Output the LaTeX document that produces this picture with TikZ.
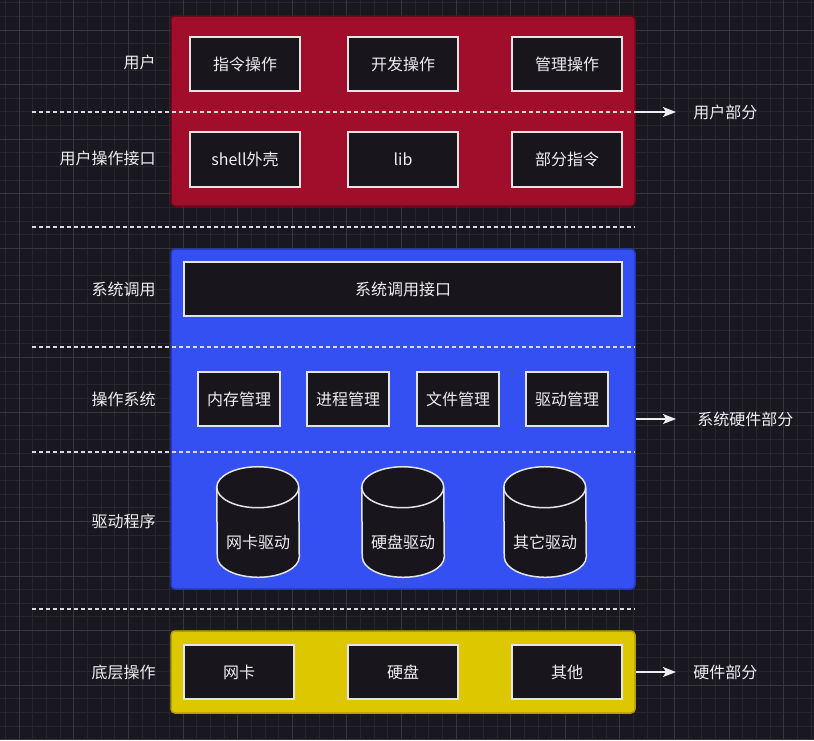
\documentclass[tikz,border=0pt]{standalone}
\usepackage{fontspec}
\setmainfont{Noto Sans CJK SC}
\usetikzlibrary{arrows.meta}
\newlength\pxu \setlength\pxu{0.75pt}
\definecolor{bg}{HTML}{19171F}
\definecolor{gminor}{HTML}{27252D}
\definecolor{gmajor}{HTML}{37353D}
\definecolor{redf}{HTML}{A00E2B}
\definecolor{redd}{HTML}{6B0A1A}
\definecolor{bluef}{HTML}{3550F2}
\definecolor{blued}{HTML}{2637C8}
\definecolor{yelf}{HTML}{DDC800}
\definecolor{yeld}{HTML}{B59C00}
\definecolor{boxfill}{HTML}{18151D}
\definecolor{boxline}{HTML}{E4E4E4}
\definecolor{txt}{HTML}{EEEEEE}
\definecolor{dashc}{HTML}{DADADA}
\begin{document}
\begin{tikzpicture}[x=0.75pt,y=-0.75pt,
  txtfont/.style={font=\fontsize{12}{14}\selectfont},
  ibox/.style={draw=boxline, fill=boxfill, line width=1.5\pxu, text=txt, txtfont,
    minimum width=110\pxu, minimum height=54\pxu, inner sep=0},
  sbox/.style={ibox, minimum width=82\pxu},
  group/.style={rounded corners=4\pxu, line width=1.5\pxu, inner sep=0},
  lbl/.style={text=txt, txtfont, inner sep=0},
  dashline/.style={draw=dashc, line width=1.5\pxu, dash pattern=on 4\pxu off 3\pxu},
  arr/.style={draw=txt, line width=1.1pt, shorten >=12.75pt,
    -{Stealth[length=9.75pt, width=7.5pt, inset=2.25pt]}},
  cylarea/.style={text=txt, txtfont, minimum width=82\pxu, minimum height=110\pxu, inner sep=0},
  cyl/.style={draw=boxline, fill=boxfill, line width=1.5\pxu}
]
\fill[bg] (0,0) rectangle (814,740);
\useasboundingbox (0,0) rectangle (814,740);
% grid
\foreach \k in {0,...,59} {
  \pgfmathsetmacro\gx{5.65+\k*13.65}
  \draw[gminor, line width=1\pxu] (\gx,0) -- (\gx,740);
}
\foreach \k in {0,...,54} {
  \pgfmathsetmacro\gy{2.7+\k*13.65}
  \draw[gminor, line width=1\pxu] (0,\gy) -- (814,\gy);
}
\foreach \m in {0,...,14} {
  \pgfmathsetmacro\gx{19.3+\m*54.6}
  \draw[gmajor, line width=1\pxu] (\gx,0) -- (\gx,740);
}
\foreach \m in {-1,...,13} {
  \pgfmathsetmacro\gy{30+\m*54.6}
  \draw[gmajor, line width=1\pxu] (0,\gy) -- (814,\gy);
}
% groups
\node[group, fill=redf, draw=redd, minimum width=464\pxu, minimum height=190\pxu] (red) at (403,111) {};
\node[group, fill=bluef, draw=blued, minimum width=464\pxu, minimum height=340\pxu] (blue) at (403,419) {};
\node[group, fill=yelf, draw=yeld, minimum width=464\pxu, minimum height=82\pxu] (yel) at (403,672) {};
% dashed separators
\coordinate (d1) at (32,112);
\coordinate (d2a) at (32,227); \coordinate (d2b) at (635,227);
\coordinate (d3a) at (32,347); \coordinate (d3b) at (635,347);
\coordinate (d4a) at (32,452); \coordinate (d4b) at (635,452);
\coordinate (d5a) at (32,609); \coordinate (d5b) at (635,609);
\draw[dashline] (d1) -- (d1 -| red.east);
\draw[dashline] (d2a) -- (d2b);
\draw[dashline] (d3a) -- (d3b);
\draw[dashline] (d4a) -- (d4b);
\draw[dashline] (d5a) -- (d5b);
% user part
\node[ibox] (cmd) at (245,64) {指令操作};
\node[ibox] (dev) at (403,64) {开发操作};
\node[ibox] (mgr) at (567,64) {管理操作};
\node[ibox, minimum height=55\pxu] (shell) at (245,159.5) {shell外壳};
\node[ibox, minimum height=55\pxu] (lib) at (403,159.5) {lib};
\node[ibox, minimum height=55\pxu] (part) at (567,159.5) {部分指令};
% system part
\node[ibox, minimum width=438\pxu] (sci) at (403,289) {系统调用接口};
\node[sbox] (mem) at (239,399) {内存管理};
\node[sbox] (proc) at (348,399) {进程管理};
\node[sbox] (file) at (458,399) {文件管理};
\node[sbox] (drv) at (567,399) {驱动管理};
% cylinders
\foreach \nm/\cx/\tx in {nic/258/网卡驱动, disk/403/硬盘驱动, oth/545/其它驱动} {
  \node[cylarea] (\nm) at (\cx,522) {};
  \draw[cyl] ([yshift=-15.375pt]\nm.north west)
     arc[start angle=180, end angle=0, x radius=30.75pt, y radius=15.375pt]
     -- ([yshift=15.375pt]\nm.south east)
     arc[start angle=0, end angle=-180, x radius=30.75pt, y radius=15.375pt]
     -- cycle;
  \draw[cyl, fill=none] ([yshift=-15.375pt]\nm.north west)
     arc[start angle=180, end angle=360, x radius=30.75pt, y radius=15.375pt];
  \node[lbl] at ([yshift=-15pt]\nm.center) {\tx};
}
% hardware part
\node[ibox] (nc) at (239,672) {网卡};
\node[ibox] (hd) at (403,672) {硬盘};
\node[ibox] (ot) at (567,672) {其他};
% left labels
\node[lbl, anchor=east] (l1) at (156,62) {用户};
\node[lbl, anchor=east] (l2) at (156,158) {用户操作接口};
\node[lbl, anchor=east] (l3) at (156,289) {系统调用};
\node[lbl, anchor=east] (l4) at (156,399) {操作系统};
\node[lbl, anchor=east] (l5) at (156,521) {驱动程序};
\node[lbl, anchor=east] (l6) at (156,672) {底层操作};
% right labels and arrows
\node[lbl, anchor=west] (r1) at (693,112) {用户部分};
\node[lbl, anchor=west] (r2) at (697,419) {系统硬件部分};
\node[lbl, anchor=west] (r3) at (693,672) {硬件部分};
\draw[arr] (red.east |- r1.west) -- (r1.west);
\draw[arr, shorten >=15.75pt] (blue.east) -- (r2.west);
\draw[arr] (yel.east) -- (r3.west);
\end{tikzpicture}
\end{document}
